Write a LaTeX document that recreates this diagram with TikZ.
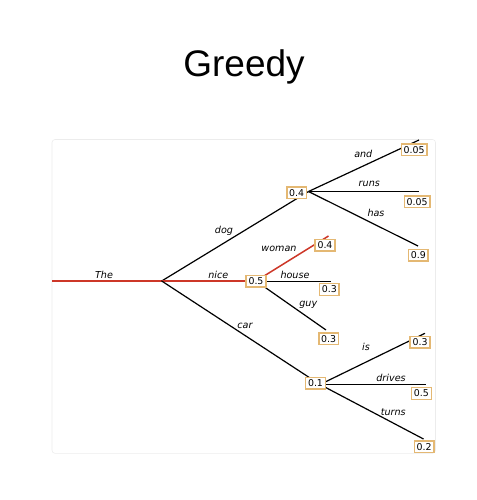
\documentclass[tikz,border=0pt]{standalone}
\usepackage{fontspec}
\setmainfont{DejaVu Sans}
\newfontfamily\titlefont{Liberation Sans}
\definecolor{redpath}{RGB}{205,55,40}
\definecolor{boxedge}{RGB}{228,184,115}
\definecolor{framegray}{RGB}{236,236,236}
\tikzset{
  edge/.style={line width=1.2pt, black},
  redge/.style={line width=1.5pt, redpath},
  prob/.style={draw=boxedge, fill=white, line width=1.4pt, inner sep=2.4pt,
    text height=6.8pt, text depth=0pt, font=\fontsize{9.4}{10}\selectfont},
  word/.style={anchor=base, inner sep=0pt, font=\fontsize{9.6}{11}\selectfont\itshape},
  titletext/.style={anchor=base, inner sep=0pt, font=\fontsize{37}{40}\selectfont\titlefont}
}
\begin{document}
\begin{tikzpicture}[x=1pt,y=-1pt]
\useasboundingbox (0,0) rectangle (476,500);
\draw[framegray, rounded corners=3pt, line width=0.6pt] (52,139.5) rectangle (435.5,453.3);
\node[titletext] (title) at (244,77) {Greedy};
% points
\coordinate (start) at (52,281);
\coordinate (root) at (161.7,281);
\coordinate (dogend) at (308.5,191.5);
\coordinate (niceend) at (256,281);
\coordinate (houseorigin) at (256,281.5);
\coordinate (carend) at (320,384.5);
\coordinate (andend) at (419,140);
\coordinate (runsend) at (419,191.5);
\coordinate (hasend) at (418,246);
\coordinate (womanend) at (328.5,236);
\coordinate (houseend) at (330.7,281.5);
\coordinate (guyend) at (326,330);
\coordinate (isend) at (425,333.3);
\coordinate (drivesend) at (426,384.5);
\coordinate (turnsend) at (423.5,439);
% connectors
\draw[redge] (start) -- (root);
\draw[edge] (root) -- (dogend);
\draw[redge] (root) -- (niceend);
\draw[edge] (root) -- (carend);
\draw[edge] (dogend) -- (andend);
\draw[edge] (dogend) -- (runsend);
\draw[edge] (dogend) -- (hasend);
\draw[redge] (niceend) -- (womanend);
\draw[edge] (houseorigin) -- (houseend);
\draw[edge] (niceend) -- (guyend);
\draw[edge] (carend) -- (isend);
\draw[edge] (carend) -- (drivesend);
\draw[edge] (carend) -- (turnsend);
% probability boxes
\node[prob] (pdog) at (296.7,192.8) {0.4};
\node[prob] (pnice) at (256,281.2) {0.5};
\node[prob] (pcar) at (315.5,383.3) {0.1};
\node[prob] (pand) at (414.2,149.7) {0.05};
\node[prob] (pruns) at (417.2,201.7) {0.05};
\node[prob] (phas) at (418.3,255.2) {0.9};
\node[prob] (pwoman) at (325,245) {0.4};
\node[prob] (phouse) at (329.3,289.5) {0.3};
\node[prob] (pguy) at (328.7,338.8) {0.3};
\node[prob] (pis) at (420,342.2) {0.3};
\node[prob] (pdrives) at (421.4,393.5) {0.5};
\node[prob] (pturns) at (424.2,446.7) {0.2};
% word labels
\node[word] (lthe) at (104,278.3) {The};
\node[word] (ldog) at (224,233) {dog};
\node[word] (lnice) at (218.3,278.3) {nice};
\node[word] (lcar) at (245,328.3) {car};
\node[word] (lwoman) at (279,251) {woman};
\node[word] (lhouse) at (295,278.3) {house};
\node[word] (lguy) at (308.3,306.7) {guy};
\node[word] (land) at (363.3,157.3) {and};
\node[word] (lruns) at (369.3,186.7) {runs};
\node[word] (lhas) at (376,216.7) {has};
\node[word] (lis) at (366,350.7) {is};
\node[word] (ldrives) at (391,381.7) {drives};
\node[word] (lturns) at (393.3,415) {turns};
\end{tikzpicture}
\end{document}
